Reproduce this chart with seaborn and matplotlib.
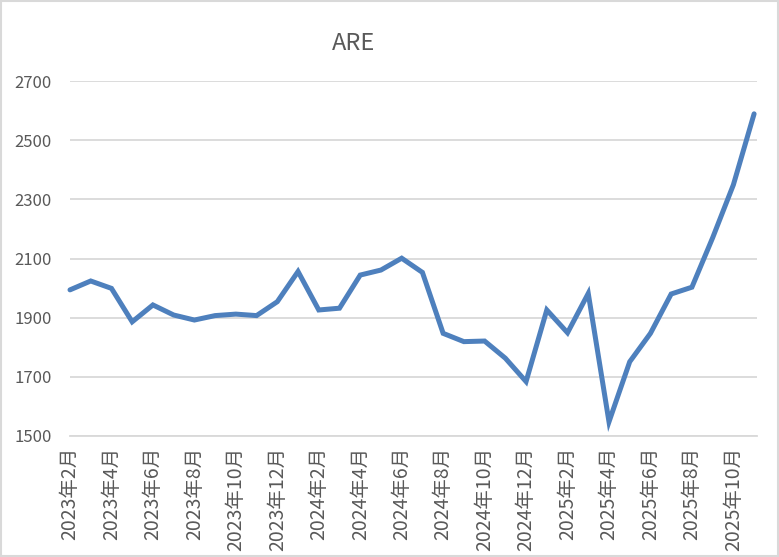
import numpy as np
import pandas as pd
import matplotlib
matplotlib.use("Agg")
import matplotlib.pyplot as plt
import seaborn as sns

# monthly series, 2023-02 .. 2025-11
months = [
    "2023年2月", "2023年3月", "2023年4月", "2023年5月", "2023年6月", "2023年7月",
    "2023年8月", "2023年9月", "2023年10月", "2023年11月", "2023年12月",
    "2024年1月", "2024年2月", "2024年3月", "2024年4月", "2024年5月", "2024年6月",
    "2024年7月", "2024年8月", "2024年9月", "2024年10月", "2024年11月", "2024年12月",
    "2025年1月", "2025年2月", "2025年3月", "2025年4月", "2025年5月", "2025年6月",
    "2025年7月", "2025年8月", "2025年9月", "2025年10月", "2025年11月",
]
values = [
    1994, 2024, 1999, 1886, 1943, 1909, 1892, 1907, 1912, 1907, 1954,
    2056, 1926, 1932, 2044, 2061, 2101, 2053, 1847, 1819, 1821, 1763, 1684,
    1926, 1849, 1982, 1548, 1751, 1847, 1980, 2003, 2170, 2349, 2589,
]
y_ticks = [1500, 1700, 1900, 2100, 2300, 2500, 2700]

df = pd.DataFrame({"idx": np.arange(len(months)), "month": months, "value": values})

sns.set_style("white")
plt.rcParams["font.family"] = ["Noto Sans CJK SC", "DejaVu Sans"]

grid_c = "#d9d9d9"
text_c = "#595959"

fig = plt.figure(figsize=(7.79, 5.57), dpi=100)
ax = fig.add_axes([70 / 779, 1 - 436 / 557, 687 / 779, 355 / 557])

sns.lineplot(data=df, x="idx", y="value", ax=ax, color="#4E80BD", linewidth=3.6,
             clip_on=False, solid_joinstyle="miter")

ax.set_xlim(0, 33.14)
ax.set_ylim(1500, 2700)
ax.set_yticks(y_ticks)
ax.set_yticklabels([str(v) for v in y_ticks], fontsize=12, color=text_c)
ax.yaxis.grid(True, color=grid_c, linewidth=1.3)
ax.set_axisbelow(True)

tick_pos = df["idx"][::2]
ax.set_xticks(tick_pos)
ax.set_xticklabels(df["month"][::2], rotation=90, fontsize=14, color=text_c,
                   ha="center", va="top")
ax.tick_params(axis="x", length=5, width=1.2, color=grid_c, pad=3)
ax.tick_params(axis="y", length=0, pad=13)
ax.set_xlabel("")
ax.set_ylabel("")

for s in ["top", "right", "left"]:
    ax.spines[s].set_visible(False)
ax.spines["bottom"].set_color(grid_c)
ax.spines["bottom"].set_linewidth(1.3)

fig.text(354 / 779, 1 - 44 / 557, "ARE", fontsize=17, color=text_c,
         ha="center", va="center")

# chart border
fig.patches.append(plt.Rectangle((0.001, 0.001), 0.998, 0.998, transform=fig.transFigure,
                                 fill=False, edgecolor=grid_c, linewidth=1.5))

fig.savefig("out.png", dpi=100)
plt.close(fig)
